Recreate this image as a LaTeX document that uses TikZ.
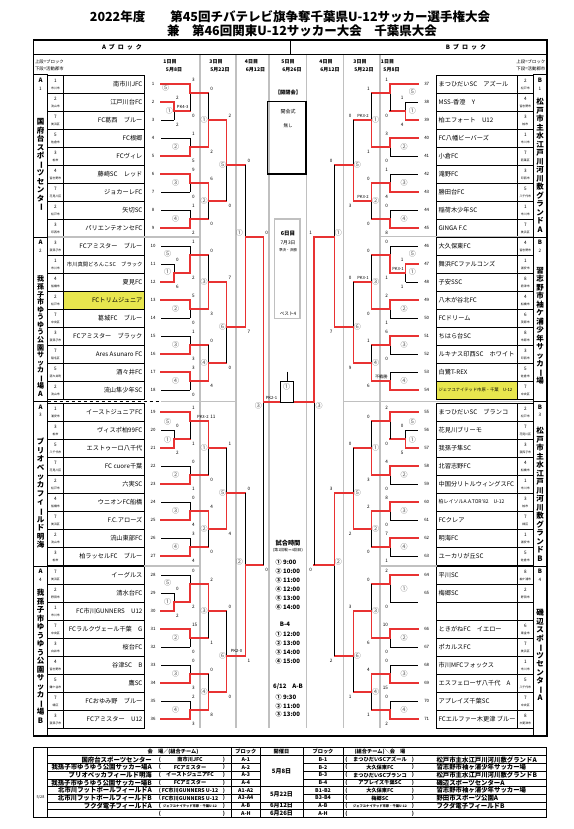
\documentclass[tikz,border=0pt]{standalone}
\usepackage{fontspec}
\setmainfont{Noto Sans CJK JP}
\usepackage{graphicx}

\definecolor{winred}{RGB}{232,50,50}
\definecolor{sepgray}{RGB}{192,192,192}
\definecolor{hilite}{RGB}{232,230,78}
\definecolor{numgray}{RGB}{95,95,95}

\newcommand{\fsz}[1]{\fontsize{#1pt}{#1pt}\selectfont}
\newcommand{\tatebar}{\rotatebox[origin=c]{-90}{ー}}
\newcount\mcnt

% one bout: x, y top, y bottom, y out, x next, winner (0 top / 1 bottom), score top, score bottom
\newcommand{\bout}[8]{%
  \global\advance\mcnt by 1
  \draw[bline] (#1,#2) -- (#1,#3);
  \pgfmathsetmacro\ywin{#6==1 ? #3 : #2}%
  \draw[rline] (#1,\ywin) -- (#1,#4) -- (#5,#4);
  \pgfmathtruncatemacro\sdir{#5>#1 ? 1 : -1}%
  \ifnum\sdir=1 \def\sanch{west}\else\def\sanch{east}\fi
  \node[score, anchor=\sanch] (m\the\mcnt t) at ({#1+1.8*\sdir},{#2-4}) {#7};
  \node[score, anchor=\sanch] (m\the\mcnt b) at ({#1+1.8*\sdir},{#3+4.5}) {#8};
}

\tikzset{
  bline/.style={line width=0.5pt},
  rline/.style={winred, line width=1.5pt, line cap=rect},
  sepline/.style={sepgray, line width=1.3pt},
  gridline/.style={line width=0.5pt},
  vline/.style={line width=1pt},
  team/.style={font=\fsz{6.2}, inner sep=0pt},
  score/.style={font=\fsz{4.6}, inner sep=0pt},
  seed/.style={font=\fsz{4.4}, inner sep=0pt},
  blkno/.style={font=\fsz{4.6}, inner sep=0pt},
  city/.style={font=\fsz{2.9}, inner sep=0pt},
  circ/.style={font=\fsz{7}, text=numgray, inner sep=0pt},
  pk/.style={font=\fsz{4.2}, inner sep=0pt},
  hdr/.style={font=\bfseries\fsz{5}, inner sep=0pt},
  ttl/.style={font=\bfseries\fsz{12.5}, inner sep=0pt},
  venue/.style={align=center, inner sep=0pt, anchor=north},
  sched/.style={font=\bfseries\fsz{6}, inner sep=0pt},
  tbl/.style={font=\bfseries\fsz{6.4}, inner sep=0pt},
  tbls/.style={font=\bfseries\fsz{5.2}, inner sep=0pt},
}

\begin{document}
\begin{tikzpicture}[x=1pt,y=-1pt]
  \useasboundingbox (0,0) rectangle (573,829);

  % Title
  \node[ttl] (ttl1) at (290,17) {2022年度\hspace{2em}第45回チバテレビ旗争奪千葉県U-12サッカー選手権大会};
  \node[ttl] (ttl2) at (302,31) {兼\hspace{1em}第46回関東U-12サッカー大会\hspace{1em}千葉県大会};

  % Column separators
  \foreach \gx in {200,236,269,306.7,343.3,380}
    \draw[sepline] (\gx,54) -- (\gx,728);

  % Header rows
  \node[hdr, font=\bfseries\fsz{6}] (ablk) at (122,47) {A\hspace{3pt}ブ\hspace{3pt}ロ\hspace{3pt}ッ\hspace{3pt}ク};
  \node[hdr, font=\bfseries\fsz{6}] (bblk) at (466,47) {B\hspace{3pt}ブ\hspace{3pt}ロ\hspace{3pt}ッ\hspace{3pt}ク};
  \node[hdr, font=\fsz{4.4}, anchor=west] (lnote1) at (34.8,61.5) {上段=ブロック};
  \node[hdr, font=\fsz{4.4}, anchor=west] (lnote2) at (34.8,68.5) {下段=活動郡市};
  \node[hdr, font=\fsz{4.4}, anchor=east] (rnote1) at (545.5,61.5) {上段=ブロック};
  \node[hdr, font=\fsz{4.4}, anchor=east] (rnote2) at (545.5,68.5) {下段=活動郡市};
  \foreach \hx/\hd/\hm [count=\k] in {170/1日目/5月8日, 216/3日目/5月22日, 251.5/4日目/6月12日,
      288/5日目/6月26日, 326/4日目/6月12日, 360/3日目/5月22日, 387.5/1日目/5月8日} {
    \node[hdr] (hd\k) at (\hx,61.5) {\hd};
    \node[hdr] (hm\k) at (\hx+4,69.5) {\hm};
  }

  % Highlighted teams
  \fill[hilite] (63.3,291) rectangle (144,309);
  \fill[hilite] (436.7,381) rectangle (517.3,399);

  % Left teams
  \foreach \nm/\bk/\ct/\w [count=\i] in {
      南市川JFC/1/市川市/1, 江戸川台FC/2/流山市/1, FC葛西　ブルー/7/美浜区/0,
      FC根郷/5/佐倉市/0, FCヴィレ/3/柏市/1, 藤崎SC　レッド/4/習志野市/1,
      ジョカーレFC/7/花見川区/0, 矢切SC/2/松戸市/0, パリエンテオンセFC/3/印西市/1,
      FCアミスター　ブルー/3/我孫子市/0, {\fsz{5.3}市川真間どろんこSC　ブラック}/1/市川市/0, 夏見FC/4/船橋市/1,
      FCトリムジュニア/2/松戸市/1, 葛城FC　ブルー/7/中央区/0, FCアミスター　ブラック/3/我孫子市/0,
      Ares Asunaro FC/7/稲毛区/1, 酒々井FC/5/酒々井町/1, 流山隼少年SC/2/流山市/0,
      イーストジュニアFC/1/浦安市/1, ヴィスポ柏99FC/3/柏市/0, エストゥーロ八千代/5/八千代市/1,
      FC cuore千葉/7/花見川区/0, 六実SC/2/松戸市/1, ウニオンFC船橋/4/船橋市/0,
      F.C.アローズ/7/美浜区/1, 流山東部FC/2/流山市/0, 柏ラッセルFC　ブルー/3/柏市/1,
      イーグルス/7/美浜区/0, 清水台FC/2/野田市/0, FC市川GUNNERS　U12/1/市川市/1,
      FCラルクヴェール千葉　G/7/中央区/1, 桜台FC/3/白井市/0, 谷津SC　B/4/習志野市/0,
      鷹SC/5/鎌ケ谷市/1, FCおゆみ野　ブルー/7/緑区/0, FCアミスター　U12/3/我孫子市/1} {
    \pgfmathtruncatemacro\bq{int((\i-1)/9)}
    \pgfmathtruncatemacro\rw{mod(\i-1,9)}
    \pgfmathsetmacro\yt{{75,237,403,566}[\bq]+18*\rw}
    \pgfmathsetmacro\yc{\yt+9}
    \pgfmathsetmacro\xe{(\rw==1 || \rw==2) ? 174 : 190}
    \draw[gridline] (47.7,\yt) rectangle (144,\yt+18) (63.3,\yt) -- (63.3,\yt+18);
    \ifnum\w=1 \draw[rline] (161,\yc) -- (\xe,\yc); \else \draw[bline] (161,\yc) -- (\xe,\yc); \fi
    \node[team, anchor=east] (a\i) at (142.6,\yc) {\nm};
    \node[blkno] (ab\i) at (55.5,\yt+5.5) {\bk};
    \node[city] (ac\i) at (55.5,\yt+13.2) {\ct};
    \node[seed] (an\i) at (153,\yc) {\i};
  }

  % Right teams
  \foreach \sd/\nm/\bk/\ct/\w [count=\i] in {
      37/まつひだいSC　アズール/2/松戸市/1, 38/MSS-香澄　Y/4/習志野市/0, 39/柏エフォート　U12/3/柏市/1,
      40/FC八幡ビーバーズ/1/市川市/1, 41/小倉FC/7/若葉区/0, 42/滝野FC/3/印西市/0,
      43/勝田台FC/5/八千代市/1, 44/稲荷木少年SC/1/市川市/0, 45/GINGA F.C/7/美浜区/1,
      46/大久保東FC/4/習志野市/0, 47/舞浜FCファルコンズ/1/浦安市/1, 48/子安SSC/8/君津市/0,
      49/八木が谷北FC/4/船橋市/1, 50/FCドリーム/6/茂原市/0, 51/ちはら台SC/8/市原市/1,
      52/ルキナス印西SC　ホワイト/3/印西市/0, 53/白鷺T-REX/5/佐倉市/0, 54/{\fsz{4.3}ジェフユナイテッド市原・千葉　U-12}/7/中央区/1,
      55/まつひだいSC　ブランコ/2/松戸市/1, 56/花見川ブリーモ/7/花見川区/0, 57/我孫子隼SC/3/我孫子市/1,
      58/北習志野FC/4/船橋市/1, 59/中国分リトルウィングスFC/1/市川市/0, 60/{\fsz{5}柏レイソルA.A.TOR'82　U-12}/3/柏市/1,
      61/FCクレア/7/緑区/0, 62/明海FC/1/浦安市/1, 63/ユーカリが丘SC/5/佐倉市/0,
      64/平川SC/8/袖ケ浦市/1, 65/梅郷SC/2/野田市/3, {}/{}/{}/{}/2,
      66/ときがねFC　イエロー/6/東金市/1, 67/ポカルスFC/7/美浜区/0, 68/市川MFCフォックス/1/市川市/0,
      69/エスフェローザ八千代　A/5/八千代市/1, 70/アプレイズ千葉SC/7/中央区/0, 71/FCエルファー木更津 ブルー/8/木更津市/1} {
    \pgfmathtruncatemacro\bq{int((\i-1)/9)}
    \pgfmathtruncatemacro\rw{mod(\i-1,9)}
    \pgfmathsetmacro\yt{{75,237,403,566}[\bq]+18*\rw}
    \pgfmathsetmacro\yc{\yt+9}
    \pgfmathsetmacro\xe{(\rw==1 || \rw==2) ? 405.5 : 390}
    \draw[gridline] (436.7,\yt) rectangle (533.3,\yt+18) (517.3,\yt) -- (517.3,\yt+18);
    \ifcase\w \draw[bline] (\xe,\yc) -- (418.3,\yc);
    \or \draw[rline] (\xe,\yc) -- (418.3,\yc);
    \or
    \or \draw[bline] (390,\yt+18) -- (418.3,\yt+18);
    \fi
    \node[team, anchor=west] (b\i) at (438.4,\yc) {\nm};
    \node[blkno] (bb\i) at (525.3,\yt+5.5) {\bk};
    \node[city] (bc\i) at (525.3,\yt+13.2) {\ct};
    \node[seed] (bn\i) at (426.7,\yc) {\sd};
  }

  % Block separators
  \draw[sepline] (47.7,237) -- (200,237);
  \draw[dashed, line width=0.6pt] (47.7,401.5) -- (161,401.5);
  \draw[sepline] (161,401.5) -- (236,401.5);
  \draw[sepline] (144,566) -- (200,566);
  \draw[sepline] (380,236.5) -- (533.3,236.5);
  \draw[sepline] (343.3,401.5) -- (533.3,401.5);
  \draw[sepline] (380,566) -- (436.7,566);

  % Venue column
  \foreach \yt/\yb/\bn [count=\k] in {75/237/1, 237/401.5/2, 401.5/566/3, 566/736/4} {
    \draw[vline] (33.3,\yt) rectangle (47.7,\yb);
    \draw[vline] (533.3,\yt) rectangle (546.7,\yb);
    \node[font=\bfseries\fsz{6}, inner sep=0pt] (la\k) at (40.5,\yt+5.5) {A};
    \node[blkno] (ln\k) at (40.5,\yt+13.5) {\bn};
    \node[font=\bfseries\fsz{6}, inner sep=0pt] (ra\k) at (540,\yt+5.5) {B};
    \node[blkno] (rn\k) at (540,\yt+13.5) {\bn};
  }
  \node[venue, font=\bfseries\fontsize{7.5pt}{8.5pt}\selectfont] (va1) at (40.5,118.2)
    {国\\府\\台\\ス\\ポ\\\tatebar\\ツ\\セ\\ン\\タ\\\tatebar};
  \node[venue, font=\bfseries\fontsize{7pt}{7.56pt}\selectfont] (va2) at (40.5,275.8)
    {我\\孫\\子\\市\\ゆ\\う\\ゆ\\う\\公\\園\\サ\\ッ\\カ\\\tatebar\\場\\A};
  \node[venue, font=\bfseries\fontsize{7.5pt}{8.6pt}\selectfont] (va3) at (40.5,438)
    {ブ\\リ\\オ\\ベ\\ッ\\カ\\フ\\ィ\\\tatebar\\ル\\ド\\明\\海};
  \node[venue, font=\bfseries\fontsize{7.5pt}{8.5pt}\selectfont] (va4) at (40.5,589)
    {我\\孫\\子\\市\\ゆ\\う\\ゆ\\う\\公\\園\\サ\\ッ\\カ\\\tatebar\\場\\B};
  \node[venue, font=\bfseries\fontsize{7.5pt}{8.5pt}\selectfont] (vb1) at (540,98)
    {松\\戸\\市\\主\\水\\江\\戸\\川\\河\\川\\敷\\グ\\ラ\\ン\\ド\\A};
  \node[venue, font=\bfseries\fontsize{7.5pt}{8.5pt}\selectfont] (vb2) at (540,267)
    {習\\志\\野\\市\\袖\\ケ\\浦\\少\\年\\サ\\ッ\\カ\\\tatebar\\場};
  \node[venue, font=\bfseries\fontsize{7.5pt}{8.5pt}\selectfont] (vb3) at (540,427.3)
    {松\\戸\\市\\主\\水\\江\\戸\\川\\河\\川\\敷\\グ\\ラ\\ン\\ド\\B};
  \node[venue, font=\bfseries\fontsize{7.5pt}{8.5pt}\selectfont] (vb4) at (540,609)
    {磯\\辺\\ス\\ポ\\\tatebar\\ツ\\セ\\ン\\タ\\\tatebar\\A};

  % Left bracket
  \bout{174}{102}{120}{111}{190}{0}{2}{2}
  \bout{190}{84}{111}{93}{208.3}{0}{3}{0}
  \bout{190}{138}{156}{147}{208.3}{1}{1}{5}
  \bout{190}{174}{192}{183}{208.3}{0}{9}{0}
  \bout{190}{210}{228}{219}{208.3}{1}{1}{2}
  \bout{208.3}{93}{147}{120}{226.7}{1}{0}{2}
  \bout{208.3}{183}{219}{201}{226.7}{0}{6}{0}
  \bout{226.7}{120}{201}{165}{245.7}{0}{2}{0}
  \bout{174}{264}{282}{273}{190}{1}{0}{6}
  \bout{190}{246}{273}{255}{208.3}{1}{1}{2}
  \bout{190}{300}{318}{309}{208.3}{0}{5}{0}
  \bout{190}{336}{354}{345}{208.3}{1}{1}{3}
  \bout{190}{372}{390}{381}{208.3}{0}{3}{0}
  \bout{208.3}{255}{309}{282}{226.7}{1}{0}{3}
  \bout{208.3}{345}{381}{363}{226.7}{1}{0}{4}
  \bout{226.7}{282}{363}{327}{245.7}{0}{7}{0}
  \bout{245.7}{165}{327}{237}{263.3}{1}{0}{7}
  \bout{174}{430}{448}{439}{190}{1}{0}{2}
  \bout{190}{412}{439}{421}{208.3}{0}{1}{1}
  \bout{190}{466}{484}{475}{208.3}{1}{0}{1}
  \bout{190}{502}{520}{511}{208.3}{1}{0}{4}
  \bout{190}{538}{556}{547}{208.3}{1}{3}{4}
  \bout{208.3}{421}{475}{448}{226.7}{0}{11}{0}
  \bout{208.3}{511}{547}{529}{226.7}{0}{4}{0}
  \bout{226.7}{448}{529}{493}{245.7}{1}{1}{4}
  \bout{174}{593}{611}{602}{190}{1}{0}{2}
  \bout{190}{575}{602}{584}{208.3}{1}{0}{2}
  \bout{190}{629}{647}{638}{208.3}{0}{15}{0}
  \bout{190}{665}{683}{674}{208.3}{1}{0}{3}
  \bout{190}{701}{719}{710}{208.3}{1}{2}{3}
  \bout{208.3}{584}{638}{611}{226.7}{0}{2}{1}
  \bout{208.3}{674}{710}{692}{226.7}{1}{0}{8}
  \bout{226.7}{611}{692}{656}{245.7}{1}{0}{0}
  \bout{245.7}{493}{656}{565}{263.3}{1}{0}{1}
  \bout{263.3}{237}{565}{402}{280}{0}{0}{0}

  % Right bracket
  \bout{405.5}{102}{120}{111}{390}{1}{1}{4}
  \bout{390}{84}{111}{93}{371.7}{0}{1}{0}
  \bout{390}{138}{156}{147}{371.7}{0}{3}{0}
  \bout{390}{174}{192}{183}{371.7}{1}{1}{4}
  \bout{390}{210}{228}{219}{371.7}{1}{0}{8}
  \bout{371.7}{93}{147}{120}{353.3}{1}{1}{1}
  \bout{371.7}{183}{219}{201}{353.3}{0}{0}{0}
  \bout{353.3}{120}{201}{165}{334.3}{1}{0}{3}
  \bout{405.5}{264}{282}{273}{390}{0}{1}{1}
  \bout{390}{246}{273}{255}{371.7}{1}{0}{1}
  \bout{390}{300}{318}{309}{371.7}{0}{2}{1}
  \bout{390}{336}{354}{345}{371.7}{0}{6}{0}
  \bout{390}{372}{390}{381}{371.7}{1}{}{}
  \bout{371.7}{255}{309}{282}{353.3}{1}{0}{0}
  \bout{371.7}{345}{381}{363}{353.3}{1}{1}{6}
  \bout{353.3}{282}{363}{327}{334.3}{1}{0}{9}
  \bout{334.3}{165}{327}{237}{314}{1}{0}{7}
  \bout{405.5}{430}{448}{439}{390}{1}{0}{5}
  \bout{390}{412}{439}{421}{371.7}{0}{2}{0}
  \bout{390}{466}{484}{475}{371.7}{0}{4}{0}
  \bout{390}{502}{520}{511}{371.7}{0}{8}{0}
  \bout{390}{538}{556}{547}{371.7}{0}{7}{1}
  \bout{371.7}{421}{475}{448}{353.3}{1}{0}{3}
  \bout{371.7}{511}{547}{529}{353.3}{0}{2}{0}
  \bout{353.3}{448}{529}{493}{334.3}{1}{0}{2}
  \bout{390}{575}{602}{584}{371.7}{0}{2}{0}
  \bout{390}{629}{647}{638}{371.7}{0}{10}{0}
  \bout{390}{665}{683}{674}{371.7}{1}{0}{15}
  \bout{390}{701}{719}{710}{371.7}{1}{0}{2}
  \bout{371.7}{584}{638}{611}{353.3}{1}{0}{6}
  \bout{371.7}{674}{710}{692}{353.3}{0}{4}{1}
  \bout{353.3}{611}{692}{656}{334.3}{0}{3}{1}
  \bout{334.3}{493}{656}{565}{314}{0}{3}{2}
  \bout{314}{237}{565}{402}{293.3}{0}{1}{0}

  % Final
  \draw[bline] (280,381.7) rectangle (293.3,402);
  \draw[bline] (287.3,371.7) -- (287.3,381.7);

  % PK notes
  \node[pk] (pk1) at (182.7,106.5) {PK4-3};
  \node[pk, anchor=east] (pk2) at (208.8,417) {PK3-2};
  \node[pk] (pk3) at (236.5,651) {PK2-0};
  \node[pk] (pk4) at (271.5,398.3) {PK2-1};
  \node[pk] (pk5) at (398,269) {PK3-1};
  \node[pk] (pk6) at (363,115.5) {PK3-2};
  \node[pk] (pk7) at (363,196.7) {PK3-2};
  \node[pk] (pk8) at (363,277.7) {PK3-1};
  \node[pk] (fsn) at (381.3,376.8) {不戦勝};

  % Bout numbers
  \foreach \cx/\cy/\lab [count=\k] in {
      169.3/110.7/①, 165.7/88.3/⑤, 175.7/147/②, 175.7/183/③, 175.7/219/④, 204/120/①, 204/201/②, 222.7/165/⑤,
      167.7/272.3/①, 167.7/254.3/⑤, 175.7/309/②, 175.7/345/③, 175.7/381/④, 204/282/③, 204/363/④, 222.7/327/⑥,
      239.3/232.7/①,
      167.7/440/①, 167.7/422.3/⑤, 175.7/475/②, 175.7/511/③, 175.7/547/④, 204/448/①, 204/529/②, 222.7/493/⑤,
      167.7/601.7/①, 167.7/583.3/⑤, 175.7/638/②, 175.7/674/③, 175.7/710/④, 204/611/③, 204/692/④, 222.7/656/⑥,
      239.3/561.7/②, 258.3/405.7/③, 286.7/387/①,
      412.3/110.7/①, 412.3/92.3/⑤, 404/147/②, 404/183/③, 404/219/④, 375.7/120/①, 375.7/201/②, 357.3/165/⑤,
      412.3/272.3/①, 412.3/254.3/⑤, 404/309/②, 404/345/③, 404/381/④, 375.7/282/③, 375.7/363/④, 357.3/327/⑥,
      338.3/232.7/①,
      412.3/440/①, 412.3/421.7/⑤, 404/475/②, 404/511/③, 404/547/④, 375.7/448/①, 375.7/529/②, 357.3/493/⑤,
      404/589/①, 404/638/②, 404/674/③, 404/710/④, 375.7/611/③, 375.7/692/④, 357.3/656/⑥,
      338.3/561.7/②, 319/405.7/③}
    \node[circ] (cl\k) at (\cx,\cy) {\lab};

  % Centre column
  \node[hdr, font=\bfseries\fsz{5.2}] (kaiheikai) at (288,92.7) {【開閉会】};
  \draw[line width=1.2pt] (267.7,101.7) rectangle (306,174);
  \node[hdr, font=\fsz{5}] (kaikai) at (288,111.7) {開会式};
  \node[hdr, font=\fsz{4.5}] (nashi) at (288,125.7) {無し};
  \draw[sepline, line width=1.6pt] (274.3,219) rectangle (300,318.3);
  \node[hdr, font=\bfseries\fsz{5.5}] (day6) at (288,233.3) {6日目};
  \node[hdr, font=\fsz{4.8}] (jul3) at (288,242.7) {7月3日};
  \node[hdr, font=\fsz{3.6}] (sfinal) at (288,250) {準決・決勝};
  \node[hdr, font=\fsz{4.6}] (best4) at (288,313.3) {ベスト4};

  % Kick-off times
  \node[sched, font=\bfseries\fsz{6.2}] (kick) at (288,543) {試合時間};
  \node[sched, font=\fsz{3.8}] (kicknote) at (288,550) {(第1回戦＝4回目)};
  \foreach \lab/\tm/\yy [count=\k] in {①/9:00/562, ②/10:00/571, ③/11:00/580, ④/12:00/589, ⑤/13:00/598, ⑥/14:00/607,
      ①/12:00/634, ②/13:00/643, ③/14:00/652, ④/15:00/661, ①/9:30/697, ②/11:00/706, ③/13:00/714.5} {
    \node[sched] (kn\k) at (278.5,\yy) {\lab};
    \node[sched, anchor=west] (kt\k) at (283,\yy) {\tm};
  }
  \node[sched] (b4) at (285,624.5) {B-4};
  \node[sched] (ab612) at (288,687) {6/12　A-B};

  % Frame
  \draw[line width=1.6pt] (33.3,40) rectangle (546.7,736);
  \draw[line width=0.8pt] (33.3,54) -- (546.7,54);
  \draw[line width=0.8pt] (290,40) -- (290,54);

  % Venue table
  \draw[line width=1pt] (33.3,747.5) rectangle (546.3,817.3);
  \foreach \tx in {47.7,231.7,260,303,343}
    \draw[gridline] (\tx,747.5) -- (\tx,817.3);
  \foreach \k in {0,...,7} {
    \pgfmathsetmacro\ty{755.7+7.7*\k}
    \draw[gridline] (47.7,\ty) -- (260,\ty) (303,\ty) -- (546.3,\ty);
  }
  \foreach \ty in {755.7,786.5,801.9,809.6}
    \draw[gridline] (260,\ty) -- (303,\ty);
  \node[tbls] (th1) at (173,751.6) {会　場／(組合チーム)};
  \node[tbls] (th2) at (245.8,751.6) {ブロック};
  \node[tbls] (th3) at (281.5,751.6) {開催日};
  \node[tbls] (th4) at (323,751.6) {ブロック};
  \node[tbls] (th5) at (380,751.6) {(組合チーム)＼会　場};
  \node[tbls, font=\fsz{3.8}] (upd) at (40.5,797) {5/28};
  \foreach \vn/\tm/\bl [count=\k] in {
      国府台スポーツセンター/南市川JFC/A-1, 我孫子市ゆうゆう公園サッカー場A/FCアミスター/A-2,
      ブリオベッカフィールド明海/イーストジュニアFC/A-3, 我孫子市ゆうゆう公園サッカー場B/FCアミスター/A-4,
      北市川フットボールフィールドA/FC市川GUNNERS U-12/A1-A2, 北市川フットボールフィールドB/FC市川GUNNERS U-12/A3-A4,
      フクダ電子フィールドA/{\fsz{3.3}ジェフユナイテッド市原・千葉U-12}/A-B, {}/{}/A-H} {
    \pgfmathsetmacro\ty{755.7+7.7*(\k-0.5)}
    \node[tbl, anchor=east] (lv\k) at (152,\ty) {\vn};
    \node[tbls] (lp\k) at (160,\ty) {(};
    \node[tbls] (lt\k) at (190,\ty) {\tm};
    \node[tbls] (lq\k) at (224,\ty) {)};
    \node[tbls] (lb\k) at (245.8,\ty) {\bl};
  }
  \foreach \vn/\tm/\bl [count=\k] in {
      松戸市主水江戸川河川敷グランドA/まつひだいSCアズール/B-1, 習志野市袖ヶ浦少年サッカー場/大久保東FC/B-2,
      松戸市主水江戸川河川敷グランドB/まつひだいSCブランコ/B-3, 磯辺スポーツセンターA/アプレイズ千葉SC/B-4,
      習志野市袖ヶ浦少年サッカー場/大久保東FC/B1-B2, 野田市スポーツ公園A/梅郷SC/B3-B4,
      フクダ電子フィールドB/{\fsz{3.3}ジェフユナイテッド市原・千葉U-12}/A-B, {}/{}/A-H} {
    \pgfmathsetmacro\ty{755.7+7.7*(\k-0.5)}
    \node[tbls] (rb\k) at (323,\ty) {\bl};
    \node[tbls] (rp\k) at (346.3,\ty) {(};
    \node[tbls] (rt\k) at (380,\ty) {\tm};
    \node[tbls] (rq\k) at (413,\ty) {)};
    \node[tbl, anchor=west] (rv\k) at (436.3,\ty) {\vn};
  }
  \node[tbl, font=\bfseries\fsz{6}] (d1) at (281.5,771.1) {5月8日};
  \node[tbl, font=\bfseries\fsz{6}] (d2) at (281.5,794.2) {5月22日};
  \node[tbl, font=\bfseries\fsz{6}] (d3) at (281.5,805.75) {6月12日};
  \node[tbl, font=\bfseries\fsz{6}] (d4) at (281.5,813.45) {6月26日};
\end{tikzpicture}
\end{document}
